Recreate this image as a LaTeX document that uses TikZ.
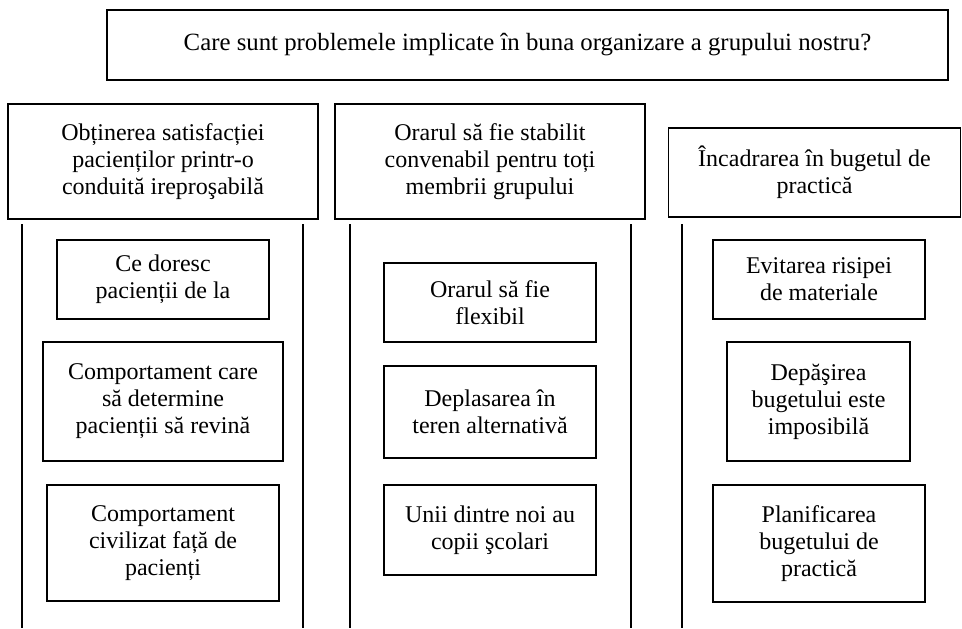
\documentclass[tikz,border=0pt]{standalone}
\usepackage{fontspec}
\setmainfont{Liberation Serif}
\usepackage{tikz}

\tikzset{
    box/.style={draw, line width=0.8pt, align=center, inner sep=2pt,
        font=\fontsize{12pt}{13.5pt}\selectfont},
    rail/.style={line width=0.8pt}
}

\begin{document}
\begin{tikzpicture}[x=0.5pt, y=-0.5pt]
    \useasboundingbox (0, 0) rectangle (962, 628);

    \node[box, minimum width=420.5pt, minimum height=35pt, font=\fontsize{12.4pt}{14pt}\selectfont] at (527.5, 45) (top) {Care sunt problemele implicate în buna organizare a grupului nostru?};

    \node[box, minimum width=155pt, minimum height=57.5pt] at (163, 161.5) (h1) {Obținerea satisfacției\\pacienților printr-o\\conduită ireproşabilă};
    \node[box, minimum width=155pt, minimum height=57.5pt] at (490, 161.5) (h2) {Orarul să fie stabilit\\convenabil pentru toți\\membrii grupului};
    \node[box, minimum width=146pt, minimum height=44.5pt] at (814.5, 172.5) (h3) {Încadrarea în bugetul de\\practică};

    \node[box, minimum width=106pt, minimum height=39.5pt] at (163, 279.5) (a1) {Ce doresc\\pacienții de la};
    \node[box, minimum width=120pt, minimum height=59.5pt] at (163, 401.5) (a2) {Comportament care\\să determine\\pacienții să revină};
    \node[box, minimum width=116pt, minimum height=58pt] at (163, 543) (a3) {Comportament\\civilizat față de\\pacienți};

    \node[box, minimum width=106pt, minimum height=39.5pt] at (490, 302.5) (b1) {Orarul să fie\\flexibil};
    \node[box, minimum width=106pt, minimum height=46pt] at (490, 412) (b2) {Deplasarea în\\teren alternativă};
    \node[box, minimum width=106pt, minimum height=45pt] at (490, 530) (b3) {Unii dintre noi au\\copii şcolari};

    \node[box, minimum width=106pt, minimum height=39.5pt] at (819, 279.5) (c1) {Evitarea risipei\\de materiale};
    \node[box, minimum width=91.5pt, minimum height=59.5pt] at (818.5, 401.5) (c2) {Depăşirea\\bugetului este\\imposibilă};
    \node[box, minimum width=106pt, minimum height=58.5pt] at (819, 543.5) (c3) {Planificarea\\bugetului de\\practică};

    \draw[rail] (22, 224) -- (22, 628);
    \draw[rail] (303, 224) -- (303, 628);
    \draw[rail] (350, 224) -- (350, 628);
    \draw[rail] (631, 224) -- (631, 628);
    \draw[rail] (682, 224) -- (682, 628);
\end{tikzpicture}
\end{document}
